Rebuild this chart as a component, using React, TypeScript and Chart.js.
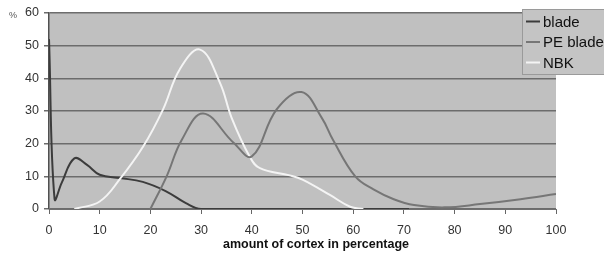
import React, { useEffect, useRef } from "react";
import { Chart, registerables } from "chart.js";

Chart.register(...registerables);

const seriesNames = ["blade", "PE blade", "NBK"];
const seriesColors = ["#3c3c3c", "#767676", "#f4f4f4"];

const bladeX = [0, 1.1, 2.5, 5, 7.5, 10, 14, 18.5, 23, 27, 30, 50, 71];
const bladeY = [52, 3, 8, 15.5, 13.5, 10.5, 9.5, 8.3, 5.5, 1.8, 0, 0, 0];

const peBladeX = [20, 23.2, 26.2, 30.4, 36.4, 40, 44.9, 49.8, 53.8, 56, 60.4, 64, 68, 72, 78, 85, 93, 100];
const peBladeY = [0, 10, 21.2, 29.2, 20.3, 16.1, 30.5, 35.8, 27.9, 21.2, 10, 6, 3, 1.2, 0.5, 1.5, 3, 4.6];

const nbkX = [5, 10, 14, 18.6, 22.5, 25.8, 29.8, 33.7, 36, 39.6, 41.6, 47.5, 50, 55.4, 59.4, 62];
const nbkY = [0, 2.3, 9.2, 19.2, 30.5, 42.8, 48.8, 38.7, 28, 16, 12.5, 10.3, 9, 4.3, 0.7, 0];

const xTitle = "amount of cortex in percentage";
const yUnit = "%";

function pts(xs: number[], ys: number[]) {
  return xs.map((x, i) => ({ x, y: ys[i] }));
}

export default function App() {
  const ref = useRef<HTMLCanvasElement | null>(null);
  useEffect(() => {
    document.body.style.margin = "0";
    const canvas = ref.current!;
    const bgPlugin = {
      id: "bg",
      beforeDraw(chart: any) {
        const { ctx, chartArea: a } = chart;
        ctx.save();
        ctx.fillStyle = "#c0c0c0";
        ctx.fillRect(a.left, a.top, a.right - a.left, a.bottom - a.top);
        ctx.restore();
      },
      afterDraw(chart: any) {
        const { ctx } = chart;
        ctx.save();
        ctx.fillStyle = "#555";
        ctx.font = "9px 'Liberation Sans', Arial, sans-serif";
        ctx.textAlign = "left";
        ctx.textBaseline = "middle";
        ctx.fillText(yUnit, 9, 16);
        ctx.fillStyle = "#111";
        ctx.font = "bold 12.5px 'Liberation Sans', Arial, sans-serif";
        ctx.textAlign = "center";
        ctx.textBaseline = "alphabetic";
        ctx.fillText(xTitle, 316, 248);
        const lx = 522, ly = 9, lw = 90, lh = 65;
        ctx.fillStyle = "#c4c4c4";
        ctx.fillRect(lx, ly, lw, lh);
        ctx.strokeStyle = "#9a9a9a";
        ctx.lineWidth = 1;
        ctx.strokeRect(lx + 0.5, ly + 0.5, lw, lh);
        ctx.font = "15px 'Liberation Sans', Arial, sans-serif";
        ctx.textAlign = "left";
        ctx.textBaseline = "middle";
        seriesNames.forEach((n, i) => {
          const y = 21.5 + i * 20.5;
          ctx.strokeStyle = seriesColors[i];
          ctx.lineWidth = 2;
          ctx.beginPath();
          ctx.moveTo(526, y);
          ctx.lineTo(540, y);
          ctx.stroke();
          ctx.fillStyle = "#111";
          ctx.fillText(n, 543, y + 1);
        });
        ctx.restore();
      },
    };
    const mk = (i: number, xs: number[], ys: number[]) => ({
      label: seriesNames[i],
      data: pts(xs, ys),
      borderColor: seriesColors[i],
      backgroundColor: seriesColors[i],
      borderWidth: 2,
      pointRadius: 0,
      tension: 0.4,
      fill: false,
    });
    const chart = new Chart(canvas, {
      type: "line",
      data: {
        datasets: [mk(1, peBladeX, peBladeY), mk(2, nbkX, nbkY), mk(0, bladeX, bladeY)],
      },
      options: {
        animation: false,
        responsive: false,
        maintainAspectRatio: false,
        layout: { padding: { left: 0, right: 48, top: 13, bottom: 0 } },
        plugins: { legend: { display: false }, tooltip: { enabled: false } },
        scales: {
          x: {
            type: "linear",
            min: 0,
            max: 100,
            afterFit(s: any) {
              s.height = 46;
            },
            ticks: {
              stepSize: 10,
              color: "#333",
              font: { family: "'Liberation Sans', Arial, sans-serif", size: 12.5 },
              padding: 9,
              maxRotation: 0,
            },
            grid: {
              drawOnChartArea: false,
              drawTicks: true,
              tickLength: 5,
              color: "#666",
            },
            border: { color: "#707070", width: 1 },
          },
          y: {
            min: 0,
            max: 60,
            afterFit(s: any) {
              s.width = 49;
            },
            ticks: {
              stepSize: 10,
              color: "#333",
              font: { family: "'Liberation Sans', Arial, sans-serif", size: 12.5 },
              padding: 5,
            },
            grid: {
              color: "#6c6c6c",
              lineWidth: 1.5,
              drawTicks: true,
              tickLength: 5,
            },
            border: { color: "#505050", width: 1.5 },
          },
        },
      },
      plugins: [bgPlugin],
    });
    return () => chart.destroy();
  }, []);
  return <canvas ref={ref} width={604} height={255} style={{ display: "block" }} />;
}
